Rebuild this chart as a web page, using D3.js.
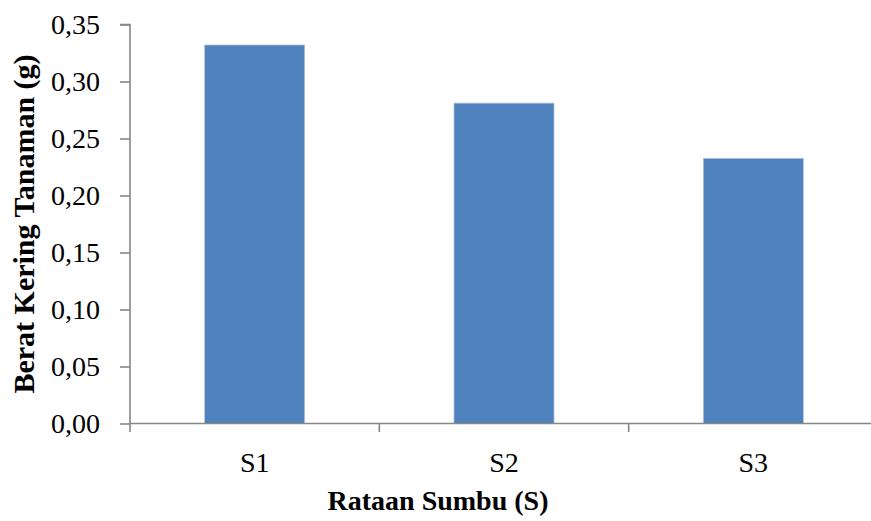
<!DOCTYPE html>
<html>
<head>
<meta charset="utf-8">
<script src="https://cdn.jsdelivr.net/npm/d3@7"></script>
<style>
  html, body { margin: 0; padding: 0; background: #fff; }
  svg { display: block; }
  svg text { font-family: "Liberation Serif", "Times New Roman", Times, "Nimbus Roman", "DejaVu Serif", serif; }
</style>
</head>
<body>
<script>
const categories = ["S1", "S2", "S3"];
const values = [0.332, 0.281, 0.2325];
const yTicks = [0, 0.05, 0.10, 0.15, 0.20, 0.25, 0.30, 0.35];
const xTitle = "Rataan Sumbu (S)";
const yTitle = "Berat Kering Tanaman (g)";

const W = 871, H = 521;
const svg = d3.select("body").append("svg").attr("width", W).attr("height", H);

const x = d3.scaleBand().domain(categories).range([130, 878]).padding(0);
const y = d3.scaleLinear().domain([0, 0.35]).range([423.5, 24.5]);
const barW = x.bandwidth() * 0.401;
const axisColor = "#878787";

// bars
svg.append("g").selectAll("rect").data(values).join("rect")
  .attr("x", (d, i) => x(categories[i]) + x.bandwidth() / 2 - barW / 2)
  .attr("y", d => y(d))
  .attr("width", barW)
  .attr("height", d => y(0) - y(d))
  .attr("fill", "#4F81BD")
  .attr("stroke", "#a9c0df")
  .attr("stroke-width", 0.8);

// y axis
const yAxis = d3.axisLeft(y).tickValues(yTicks).tickSize(10).tickPadding(20)
  .tickFormat(d => d3.format(".2f")(d).replace(".", ","));
const gy = svg.append("g").attr("transform", "translate(130,0)").call(yAxis)
  .attr("font-family", null);
gy.select(".domain").attr("stroke", axisColor).attr("stroke-width", 1.6)
  .attr("d", `M-10,${y(0.35)}H0V${y(0)}`);
gy.selectAll(".tick line").attr("stroke", axisColor).attr("stroke-width", 1.6);
gy.selectAll(".tick text").attr("font-size", 28)
  .attr("fill", "#000").attr("dy", "0.33em");

// x axis
const xAxis = d3.axisBottom(x).tickSize(0).tickPadding(0);
const gx = svg.append("g").attr("transform", `translate(0,${y(0)})`).call(xAxis)
  .attr("font-family", null);
gx.select(".domain").attr("stroke", axisColor).attr("stroke-width", 1.6)
  .attr("d", `M130,0H878`);
gx.selectAll(".tick text").attr("font-size", 28)
  .attr("fill", "#000").attr("dy", "0").attr("y", 48.5);
// category boundary ticks
const bounds = categories.map(c => x(c)).concat([x(categories[categories.length - 1]) + x.bandwidth()]);
gx.append("g").selectAll("line").data(bounds).join("line")
  .attr("x1", d => d).attr("x2", d => d).attr("y1", 0).attr("y2", 8.5)
  .attr("stroke", axisColor).attr("stroke-width", 1.6);

// titles
svg.append("text").attr("x", 438).attr("y", 510).attr("text-anchor", "middle")
  .attr("font-size", 28).attr("font-weight", "bold")
  .text(xTitle);
svg.append("text")
  .attr("transform", `translate(33.5,${(y(0) + y(0.35)) / 2}) rotate(-90)`)
  .attr("text-anchor", "middle")
  .attr("font-size", 30).attr("font-weight", "bold")
  .text(yTitle);
</script>
</body>
</html>
